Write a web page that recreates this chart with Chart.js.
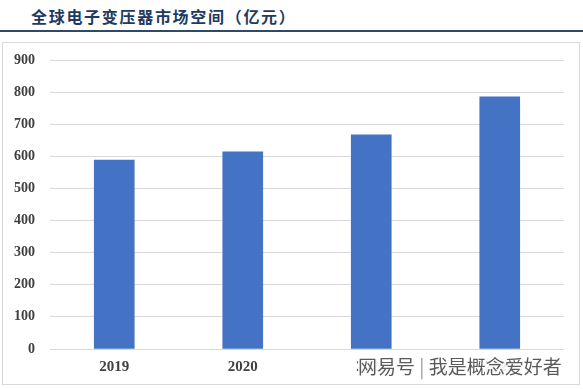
<!DOCTYPE html>
<html>
<head>
<meta charset="utf-8">
<script src="https://cdn.jsdelivr.net/npm/chart.js@4/dist/chart.umd.min.js"></script>
<style>
    html, body { margin: 0; padding: 0; background: #fff; }
    body { width: 583px; height: 389px; position: relative; overflow: hidden; }
    #title {
        position: absolute; left: 31px; top: 4px;
        font-family: "Noto Sans CJK SC", sans-serif; font-weight: bold;
        font-size: 16px; letter-spacing: 1.7px; color: #1f3a5f;
    }
    #rule { position: absolute; left: 0; top: 30px; width: 583px; height: 2px; background: #2e4a66; }
    #box { position: absolute; left: 2px; top: 42px; width: 576px; height: 341px; border: 1px solid #d9d9d9; }
    #wrap { position: absolute; left: 0; top: 0; width: 583px; height: 389px; }
    #mark {
        position: absolute; left: 358px; top: 352px; padding: 0 4px 0 0;
        font-family: "Noto Sans CJK SC", sans-serif; font-size: 19px; color: #5a5a5a;
        background: rgba(255,255,255,0.9); white-space: nowrap;
        text-shadow: 0 0 2px #fff;
    }
</style>
</head>
<body>
<div id="title">全球电子变压器市场空间（亿元）</div>
<div id="rule"></div>
<div id="box"></div>
<div id="wrap"><canvas id="chart" width="583" height="389"></canvas></div>
<div id="mark">网易号 <span style="color:#999">|</span> 我是概念爱好者</div>
<script>
// values
const years = ["2019", "2020", "2021", "2022"];
const market = [588, 614, 667, 785];
const yTicks = [0, 100, 200, 300, 400, 500, 600, 700, 800, 900];

const ctx = document.getElementById("chart");

new Chart(ctx, {
    type: "bar",
    data: {
        labels: years,
        datasets: [
            {
                data: market,
                backgroundColor: "#4472c4",
                borderWidth: 0,
                barThickness: 40,
            },
        ],
    },
    options: {
        responsive: false,
        animation: false,
        layout: {
            padding: { left: 0, right: 19, top: 60, bottom: 0 },
        },
        scales: {
            y: {
                min: 0,
                max: 900,
                afterFit: (scale) => { scale.width = 50; },
                afterBuildTicks: (scale) => {
                    scale.ticks = yTicks.map((v) => ({ value: v }));
                },
                grid: { color: "#d9d9d9", lineWidth: 1, drawTicks: false },
                border: { display: false },
                ticks: {
                    padding: 15,
                    color: "#404040",
                    font: { family: "Liberation Serif", weight: "bold", size: 14 },
                },
            },
            x: {
                afterFit: (scale) => { scale.height = 40; },
                grid: { display: false, drawTicks: false },
                border: { display: false },
                ticks: {
                    padding: 9,
                    color: "#404040",
                    font: { family: "Liberation Serif", weight: "bold", size: 15 },
                },
            },
        },
        plugins: {
            legend: { display: false },
            tooltip: { enabled: false },
        },
    },
});
</script>
</body>
</html>
